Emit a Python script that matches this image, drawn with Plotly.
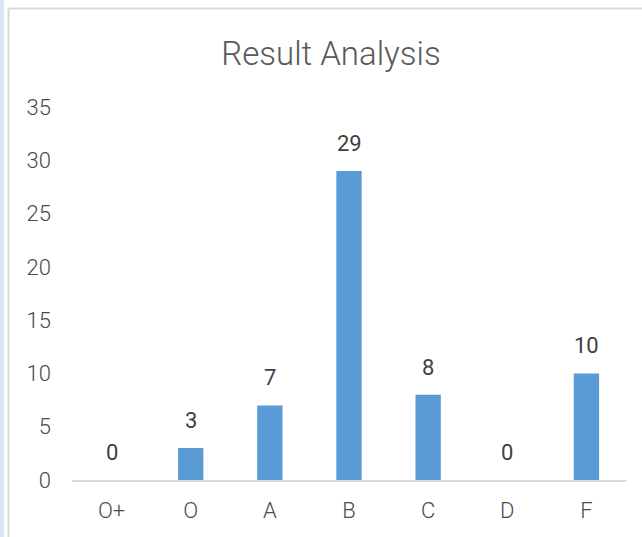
import plotly.graph_objects as go

categories = ["O+", "O", "A", "B", "C", "D", "F"]
counts = [0, 3, 7, 29, 8, 0, 10]
y_ticks = [0, 5, 10, 15, 20, 25, 30, 35]

FONT = "Roboto, Liberation Sans Narrow, sans-serif"
TXT = "#595959"

W, H = 642, 537
L, R, T, B = 72, 16, 107, 57
pw, ph = W - L - R, H - T - B

def fx(px):
    return (px - L) / pw

def fy(py):
    return (H - B - py) / ph

fig = go.Figure()
fig.add_trace(go.Bar(
    x=categories, y=counts,
    marker=dict(color="#5B9BD5", line=dict(width=0)),
    hoverinfo="x+y",
))

for c, v in zip(categories, counts):
    fig.add_annotation(x=c, y=v, text=str(v), showarrow=False,
                       yanchor="bottom", yshift=13,
                       font=dict(family=FONT, size=22, color="#404040"))

shapes = [
    dict(type="line", xref="paper", yref="paper", x0=fx(8.5), x1=fx(8.5),
         y0=fy(8.5), y1=fy(540), line=dict(color="#D9D9D9", width=2)),
    dict(type="line", xref="paper", yref="paper", x0=fx(8.5), x1=fx(645),
         y0=fy(8.5), y1=fy(8.5), line=dict(color="#D9D9D9", width=2)),
    dict(type="rect", xref="paper", yref="paper", x0=fx(-2), x1=fx(4),
         y0=fy(-2), y1=fy(540), line=dict(width=0), fillcolor="#DCE5F1"),
]

fig.update_layout(
    width=W, height=H,
    margin=dict(l=L, r=R, t=T, b=B),
    paper_bgcolor="white", plot_bgcolor="white",
    showlegend=False,
    bargap=0.68,
    shapes=shapes,
    title=dict(text="Result Analysis", x=331 / W, xref="container", xanchor="center",
               y=1 - 53 / H, yanchor="middle",
               font=dict(family=FONT, size=33, weight=300, color=TXT)),
    font=dict(family=FONT, color=TXT),
    xaxis=dict(
        showline=True, linecolor="#D9D9D9", linewidth=2,
        showgrid=False, zeroline=False, ticks="",
        tickfont=dict(family=FONT, size=22, weight=300, color="#4A4A4A"),
        ticklabelstandoff=10,
    ),
    yaxis=dict(
        range=[0, 35], tickvals=y_ticks,
        showline=False, showgrid=False, zeroline=False, ticks="",
        tickfont=dict(family=FONT, size=22, weight=300, color="#4A4A4A"),
        ticklabelstandoff=20,
    ),
)

fig.write_html("out.html", config={"displayModeBar": False},
               post_script="document.body.style.margin='0';document.body.style.overflow='hidden';")
